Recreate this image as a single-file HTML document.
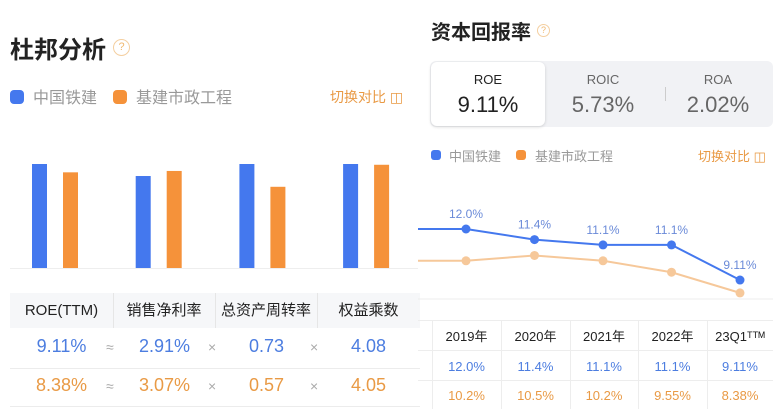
<!DOCTYPE html>
<html><head><meta charset="utf-8">
<style>
*{margin:0;padding:0;box-sizing:border-box}
body{width:773px;height:409px;overflow:hidden;background:#fff;font-family:"Liberation Sans","Noto Sans CJK SC",sans-serif;position:relative}
.a{position:absolute;white-space:nowrap}
.dot{position:absolute;border-radius:4px}
.q{position:absolute;border:1.5px solid #f4cfa0;border-radius:50%;color:#f0b870;font-size:11px;text-align:center;line-height:15px}
.th{position:absolute;top:293px;height:35px;line-height:35px;font-size:15px;color:#222;text-align:center;white-space:nowrap}
</style></head><body>
<!-- LEFT PANEL -->
<div class="a" style="left:10px;top:30px;font-size:24px;font-weight:bold;color:#222">杜邦分析</div>
<div class="q" style="left:113px;top:39px;width:17px;height:17px">?</div>
<div class="dot" style="left:10px;top:90px;width:14px;height:14px;background:#4478ee"></div>
<div class="a" style="left:33px;top:84px;font-size:16px;color:#999">中国铁建</div>
<div class="dot" style="left:113px;top:90px;width:14px;height:14px;background:#f5923a"></div>
<div class="a" style="left:136px;top:84px;font-size:16px;color:#999">基建市政工程</div>
<div class="a" style="left:330px;top:87px;font-size:14px;color:#e99a45">切换对比 ◫</div>
<svg class="a" style="left:0;top:0" width="418" height="280" id="bars"></svg>
<!-- left table -->
<div class="a" style="left:10px;top:293px;width:410px;height:114px">
 <div class="a" style="left:0;top:0;width:410px;height:35px;background:#f6f7f9"></div>
 <div class="a" style="left:0;top:75px;width:410px;height:1px;background:#ececec"></div>
 <div class="a" style="left:0;top:113px;width:410px;height:1px;background:#ececec"></div>
 <div class="a" style="left:103px;top:0;width:1px;height:35px;background:#e6e6e6"></div>
 <div class="a" style="left:205px;top:0;width:1px;height:35px;background:#e6e6e6"></div>
 <div class="a" style="left:307px;top:0;width:1px;height:35px;background:#e6e6e6"></div>
</div>
<div class="th" style="left:10px;width:103px">ROE(TTM)</div>
<div class="th" style="left:113px;width:102px">销售净利率</div>
<div class="th" style="left:215px;width:102px">总资产周转率</div>
<div class="th" style="left:317px;width:103px">权益乘数</div>
<div id="ltab"></div>
<!-- RIGHT PANEL -->
<div class="a" style="left:431px;top:16px;font-size:20px;font-weight:bold;color:#222">资本回报率</div>
<div class="q" style="left:537px;top:24px;width:13px;height:13px;font-size:9px;line-height:11px">?</div>
<div class="a" style="left:430px;top:61px;width:343px;height:66px;background:#f1f2f5;border-radius:6px"></div>
<div class="a" style="left:431px;top:62px;width:114px;height:64px;background:#fff;border-radius:6px;box-shadow:0 1px 3px rgba(0,0,0,.15)"></div>
<div class="a" style="left:665px;top:87px;width:1px;height:14px;background:#ccc"></div>
<div class="a" style="left:431px;top:72px;width:114px;text-align:center;font-size:13px;color:#222">ROE</div>
<div class="a" style="left:431px;top:92px;width:114px;text-align:center;font-size:22px;color:#222">9.11%</div>
<div class="a" style="left:545px;top:72px;width:116px;text-align:center;font-size:13px;color:#666">ROIC</div>
<div class="a" style="left:545px;top:92px;width:116px;text-align:center;font-size:22px;color:#666">5.73%</div>
<div class="a" style="left:664px;top:72px;width:108px;text-align:center;font-size:13px;color:#666">ROA</div>
<div class="a" style="left:664px;top:92px;width:108px;text-align:center;font-size:22px;color:#666">2.02%</div>
<div class="dot" style="left:431px;top:150px;width:10px;height:10px;background:#4478ee;border-radius:3px"></div>
<div class="a" style="left:449px;top:146px;font-size:13px;color:#999">中国铁建</div>
<div class="dot" style="left:516px;top:150px;width:10px;height:10px;background:#f5923a;border-radius:3px"></div>
<div class="a" style="left:535px;top:146px;font-size:13px;color:#999">基建市政工程</div>
<div class="a" style="left:698px;top:146px;font-size:13px;color:#e99a45">切换对比 ◫</div>
<svg class="a" style="left:0;top:0" width="773" height="409" id="lines"></svg>
<script>
const NS='http://www.w3.org/2000/svg';
// bar chart data
const metrics=['ROE(TTM)','销售净利率','总资产周转率','权益乘数'];
const crccVals=[9.11,2.91,0.73,4.08];
const infraVals=[8.38,3.07,0.57,4.05];
const scaleMax=[9.11,3.29,0.73,4.08];
const ops=['≈','×','×'];
function mk(parent,tag,attrs){const e=document.createElementNS(NS,tag);for(const k in attrs)e.setAttribute(k,attrs[k]);parent.appendChild(e);return e;}
const bs=document.getElementById('bars');
const base=268,hMax=104;
const by=(v,i)=>base-v/scaleMax[i]*hMax;
const bl=mk(bs,'line',{x1:10,x2:418,y1:base+0.5,y2:base+0.5,stroke:'#eee'});

metrics.forEach((m,i)=>{
  const gx=32+i*103.7;
  const b1=mk(bs,'rect',{x:gx,y:by(crccVals[i],i),width:15,height:base-by(crccVals[i],i),fill:'#4478ee'});
  
  
  const b2=mk(bs,'rect',{x:gx+31,y:by(infraVals[i],i),width:15,height:base-by(infraVals[i],i),fill:'#f5923a'});
  
  
});
// left table values
const lt=document.getElementById('ltab');
const colX=[10,113,215,317];
function fmt(v,i){return i<=1?v.toFixed(2)+'%':v.toFixed(2);}
[[crccVals,'#4c7de0',336],[infraVals,'#e99a45',375]].forEach(([arr,col,y],r)=>{
  arr.forEach((v,i)=>{
    const d=document.createElement('div');d.className='a';
    
    
    d.style.cssText=`left:${colX[i]}px;top:${y}px;width:103px;text-align:center;font-size:18px;color:${col}`;
    d.textContent=fmt(v,i);lt.appendChild(d);
  });
  ops.forEach((o,i)=>{
    const d=document.createElement('div');d.className='a';
    
    
    d.style.cssText=`left:${colX[i+1]-7}px;top:${y+3}px;font-size:14px;color:#aaa`;
    d.textContent=o;lt.appendChild(d);
  });
});
// line chart data
const years=['2019年','2020年','2021年','2022年','23Q1ᵀᵀᴹ'];
const crccRoe=[12.0,11.4,11.1,11.1,9.11];
const infraRoe=[10.2,10.5,10.2,9.55,8.38];
const crccLbl=['12.0%','11.4%','11.1%','11.1%','9.11%'];
const infraLbl=['10.2%','10.5%','10.2%','9.55%','8.38%'];
const ls=document.getElementById('lines');
const lx=i=>466+i*68.5;
const ly=v=>229+(12-v)*17.65;
const bl2=mk(ls,'line',{x1:418,x2:773,y1:299,y2:299,stroke:'#ececec'});

function series(arr,col,r,name){
  let d='M418 '+ly(arr[0]);arr.forEach((v,i)=>d+=' L'+lx(i)+' '+ly(v));
  const p=mk(ls,'path',{d,fill:'none',stroke:col,'stroke-width':2});
  
  arr.forEach((v,i)=>{const c=mk(ls,'circle',{cx:lx(i),cy:ly(v),r:r,fill:col});
    });
}
series(infraRoe,'#f6c89a',4.5,'infra-roe');
series(crccRoe,'#4478ee',4.5,'crcc-roe');
crccRoe.forEach((v,i)=>{const t=mk(ls,'text',{x:lx(i),y:ly(v)-11,'text-anchor':'middle','font-size':12,fill:'#6a8ad8'});t.textContent=crccLbl[i];
  });
// right table
const tx=[432,501,570,638,707,773];
[320,350,380,409].forEach(y=>{const l=mk(ls,'line',{x1:418,x2:773,y1:y+0.5,y2:y+0.5,stroke:'#ededed'});});
tx.slice(0,5).forEach(x=>{const l=mk(ls,'line',{x1:x+0.5,x2:x+0.5,y1:320,y2:409,stroke:'#ededed'});});
years.forEach((y,i)=>{const cx=(tx[i]+tx[i+1])/2;
  const t=mk(ls,'text',{x:cx,y:341,'text-anchor':'middle','font-size':13,fill:'#222'});t.textContent=y;
  
  const a=mk(ls,'text',{x:cx,y:371,'text-anchor':'middle','font-size':13,fill:'#4c7de0'});a.textContent=crccLbl[i];
  
  const b=mk(ls,'text',{x:cx,y:400,'text-anchor':'middle','font-size':13,fill:'#e99a45'});b.textContent=infraLbl[i];
  
});
</script>
</body></html>
